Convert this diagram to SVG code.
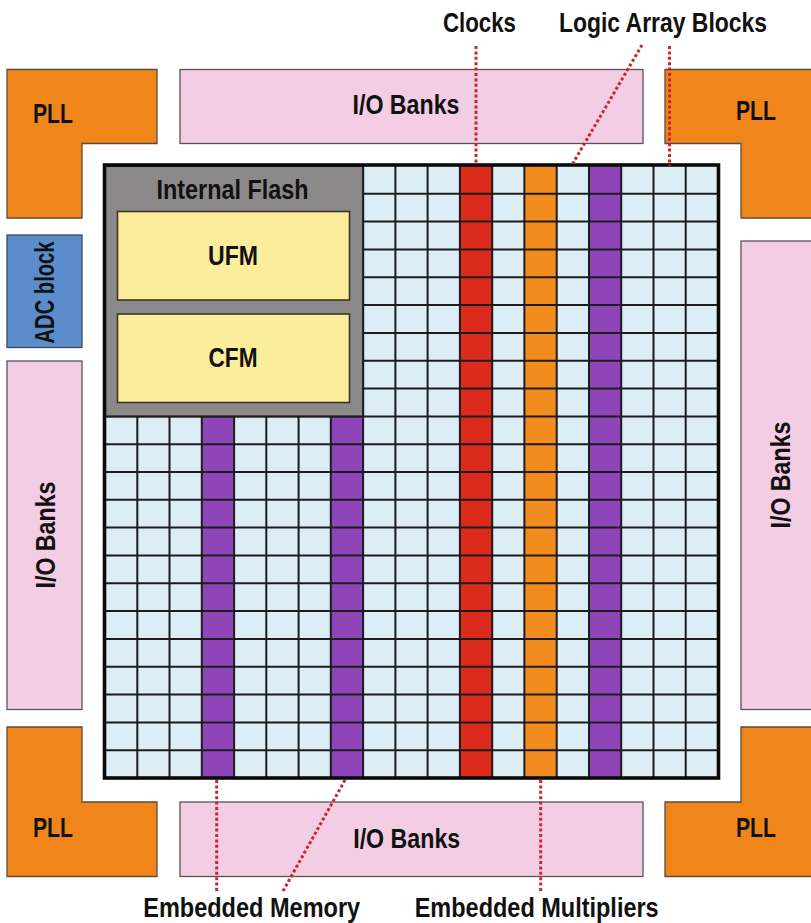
<svg xmlns="http://www.w3.org/2000/svg" width="811" height="923" viewBox="0 0 811 923">
<style>
  text { font-family: "Liberation Sans", Arial, sans-serif; font-size: 28px; font-weight: bold; fill: #111; }
  .c { text-anchor: middle; }
  .pll { fill: #f0861a; stroke: #5e4a3c; stroke-width: 1.3; }
  .io { fill: #f3cde4; stroke: #5e5058; stroke-width: 1.3; }
  .adc { fill: #5b8dcd; stroke: #3d4a5e; stroke-width: 1.3; }
  .cell { fill: #dcedf6; }
  .grid { fill: none; stroke: #1c1c1c; stroke-width: 2; }
  .flash { fill: #8b898a; stroke: #1c1c1c; stroke-width: 2; }
  .mem { fill: #fbed9b; stroke: #3b3622; stroke-width: 1.6; }
  .lead { fill: none; stroke: #c6282b; stroke-width: 3; stroke-dasharray: 3 2.4; }
</style>
<rect width="811" height="923" fill="#ffffff"/>

<g id="pll-top-left">
  <polygon class="pll" points="7,69.5 157,69.5 157,143.5 82,143.5 82,218 7,218"/>
  <text class="c" x="53" y="123" textLength="40" lengthAdjust="spacingAndGlyphs">PLL</text>
</g>
<g id="pll-top-right">
  <polygon class="pll" points="665,69.5 815,69.5 815,218 741,218 741,143.5 665,143.5"/>
  <text class="c" x="756" y="119.5" textLength="40" lengthAdjust="spacingAndGlyphs">PLL</text>
</g>
<g id="pll-bottom-left">
  <polygon class="pll" points="7,727 82,727 82,802 157,802 157,876.5 7,876.5"/>
  <text class="c" x="53" y="836.7" textLength="40" lengthAdjust="spacingAndGlyphs">PLL</text>
</g>
<g id="pll-bottom-right">
  <polygon class="pll" points="741,727 815,727 815,876.5 665,876.5 665,802 741,802"/>
  <text class="c" x="756" y="836.7" textLength="40" lengthAdjust="spacingAndGlyphs">PLL</text>
</g>

<g id="io-top">
  <rect class="io" x="180" y="69.5" width="463" height="74"/>
  <text class="c" x="406" y="114" textLength="107" lengthAdjust="spacingAndGlyphs">I/O Banks</text>
</g>
<g id="io-bottom">
  <rect class="io" x="180" y="802" width="463" height="74.5"/>
  <text class="c" x="406.7" y="848.3" textLength="107" lengthAdjust="spacingAndGlyphs">I/O Banks</text>
</g>
<g id="io-left">
  <rect class="io" x="7" y="361" width="75" height="348.5"/>
  <text class="c" transform="translate(55,535) rotate(-90)" x="0" y="0" textLength="107" lengthAdjust="spacingAndGlyphs">I/O Banks</text>
</g>
<g id="io-right">
  <rect class="io" x="741" y="241" width="74" height="468.5"/>
  <text class="c" transform="translate(790,475) rotate(-90)" x="0" y="0" textLength="107" lengthAdjust="spacingAndGlyphs">I/O Banks</text>
</g>
<g id="adc-block">
  <rect class="adc" x="7" y="235" width="75" height="112.5"/>
  <text class="c" transform="translate(53.5,292.5) rotate(-90)" x="0" y="0" textLength="102" lengthAdjust="spacingAndGlyphs">ADC block</text>
</g>

<g id="fabric">
  <rect class="cell" x="105" y="166" width="613" height="612"/>
  <g id="embedded-memory-columns" fill="#8e45b8">
    <rect x="201.8" y="416.4" width="32.3" height="361.6"/>
    <rect x="330.8" y="416.4" width="32.3" height="361.6"/>
    <rect x="589" y="166" width="32.2" height="612"/>
  </g>
  <rect id="clock-column" fill="#dc2b1c" x="459.9" y="166" width="32.3" height="612"/>
  <rect id="multiplier-column" fill="#f28c1e" x="524.4" y="166" width="32.3" height="612"/>
  <path class="grid" d="M137.3,166V778 M169.5,166V778 M201.8,166V778 M234.1,166V778 M266.3,166V778 M298.6,166V778 M330.8,166V778 M363.1,166V778 M395.4,166V778 M427.6,166V778 M459.9,166V778 M492.2,166V778 M524.4,166V778 M556.7,166V778 M589,166V778 M621.2,166V778 M653.5,166V778 M685.7,166V778
    M105,193.8H718 M105,221.6H718 M105,249.5H718 M105,277.3H718 M105,305.1H718 M105,332.9H718 M105,360.7H718 M105,388.5H718 M105,416.4H718 M105,444.2H718 M105,472H718 M105,499.8H718 M105,527.6H718 M105,555.5H718 M105,583.3H718 M105,611.1H718 M105,638.9H718 M105,666.7H718 M105,694.5H718 M105,722.4H718 M105,750.2H718"/>
</g>

<g id="internal-flash">
  <rect class="flash" x="105" y="166" width="258.1" height="250.4"/>
  <text class="c" x="232.5" y="199" textLength="152" lengthAdjust="spacingAndGlyphs">Internal Flash</text>
</g>
<g id="ufm">
  <rect class="mem" x="117.5" y="211.5" width="232" height="88.5"/>
  <text class="c" x="233" y="265" textLength="50" lengthAdjust="spacingAndGlyphs">UFM</text>
</g>
<g id="cfm">
  <rect class="mem" x="117.5" y="314" width="232" height="88.5"/>
  <text class="c" x="233" y="367.3" textLength="49" lengthAdjust="spacingAndGlyphs">CFM</text>
</g>

<rect id="chip-border" x="104.5" y="165" width="614" height="613" fill="none" stroke="#0a0a0a" stroke-width="3.6"/>

<g id="connectors">
  <line class="lead" x1="476" y1="46" x2="476" y2="165"/>
  <line class="lead" x1="642" y1="45" x2="572.5" y2="164"/>
  <line class="lead" x1="669.5" y1="46" x2="669.5" y2="166"/>
  <line class="lead" x1="216.7" y1="780" x2="216.7" y2="892"/>
  <line class="lead" x1="345" y1="780" x2="282.5" y2="892"/>
  <line class="lead" x1="540.7" y1="780" x2="540.7" y2="892"/>
</g>

<g id="labels">
  <text class="c" x="479.5" y="32.3" textLength="73" lengthAdjust="spacingAndGlyphs">Clocks</text>
  <text class="c" x="663" y="32.3" textLength="208" lengthAdjust="spacingAndGlyphs">Logic Array Blocks</text>
  <text class="c" x="251.7" y="916.7" textLength="217" lengthAdjust="spacingAndGlyphs">Embedded Memory</text>
  <text class="c" x="536.7" y="916.7" textLength="244" lengthAdjust="spacingAndGlyphs">Embedded Multipliers</text>
</g>
</svg>
